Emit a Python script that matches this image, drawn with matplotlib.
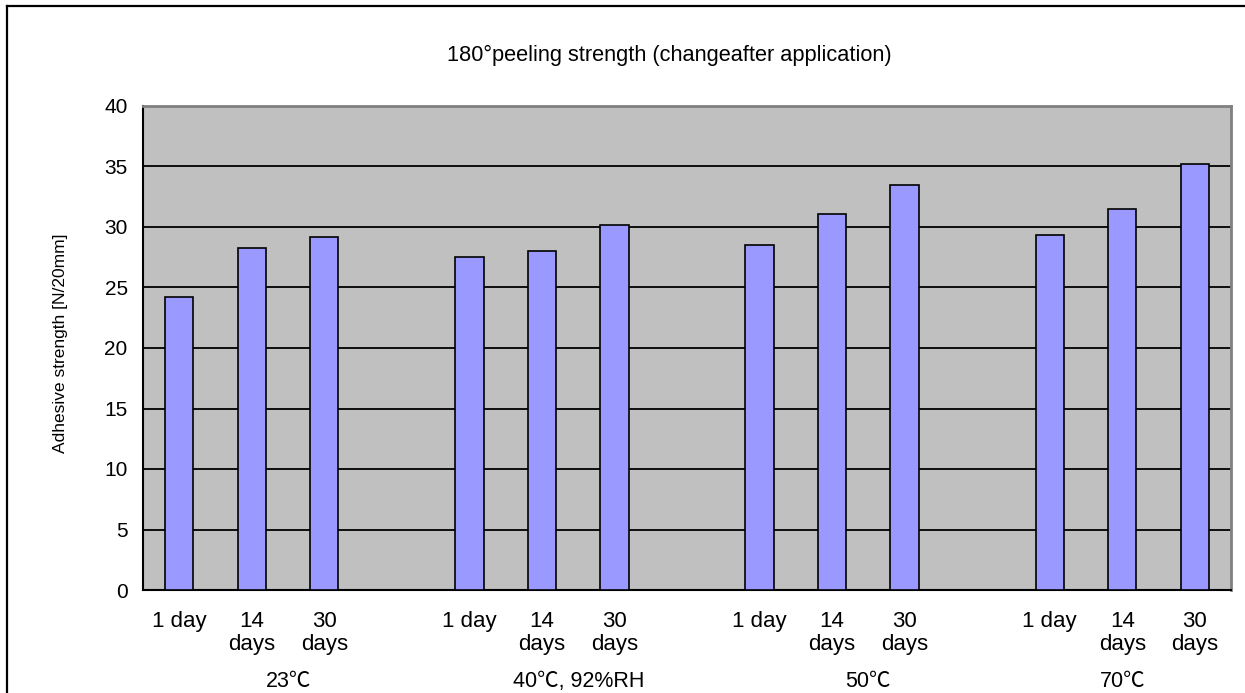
import numpy as np
import matplotlib
matplotlib.use("Agg")
import matplotlib.pyplot as plt
from matplotlib.lines import Line2D
from matplotlib.transforms import blended_transform_factory

plt.rcParams['font.family'] = ['Liberation Sans', 'Noto Sans CJK JP', 'DejaVu Sans']

groups = ['23℃', '40℃, 92%RH', '50℃', '70℃']
periods = ['1 day', '14\ndays', '30\ndays']
vals_23 = [24.2, 28.3, 29.2]
vals_40 = [27.5, 28.0, 30.2]
vals_50 = [28.5, 31.1, 33.5]
vals_70 = [29.3, 31.5, 35.2]
all_vals = [vals_23, vals_40, vals_50, vals_70]

W, H = 1245, 693
fig = plt.figure(figsize=(W / 100, H / 100), dpi=100)
ax = fig.add_axes([143 / W, 1 - 590 / H, (1231 - 143) / W, (590 - 106) / H])
ax.set_facecolor('#C0C0C0')

# one empty category slot after each group except the last
xs, heights, labels, group_x = [], [], [], []
start = 0
for g, vals in enumerate(all_vals):
    for i, v in enumerate(vals):
        xs.append(start + i)
        heights.append(v)
        labels.append(periods[i])
    span = len(vals) + (1 if g < len(all_vals) - 1 else 0)
    group_x.append(start + (span - 1) / 2)
    start += len(vals) + 1

ax.bar(xs, heights, width=0.39, color='#9999FF', edgecolor='black',
       linewidth=1.2, zorder=3)

ax.set_xlim(-0.5, 14.5)
ax.set_ylim(0, 40)
ax.set_yticks(np.arange(0, 41, 5))
ax.yaxis.grid(True, color='black', linewidth=1.3, zorder=1)
ax.set_axisbelow(True)
ax.tick_params(axis='y', length=0, pad=11, labelsize=15)
ax.set_xticks(xs)
ax.set_xticklabels(labels, fontsize=16, linespacing=1.15)
ax.tick_params(axis='x', length=0, pad=15)

for s in ['left', 'bottom']:
    ax.spines[s].set_color('black')
    ax.spines[s].set_linewidth(1.5)
for s in ['top', 'right']:
    ax.spines[s].set_color('#808080')
    ax.spines[s].set_linewidth(2)

trans = blended_transform_factory(ax.transData, ax.transAxes)
for gx, name in zip(group_x, groups):
    ax.text(gx, -0.19, name, transform=trans, ha='center',
            va='center', fontsize=15.5)

ax.set_ylabel('Adhesive strength [N/20mm]', fontsize=12.5)
ax.yaxis.set_label_coords(-0.069, 0.51)

fig.text(669 / W, 1 - 55 / H, '180°peeling strength (changeafter application)',
         ha='center', va='center', fontsize=15.7)

# outer chart frame (left and top edges visible)
fig.add_artist(Line2D([7 / W, 7 / W], [0, 1 - 6 / H], color='black',
                      linewidth=1.6, transform=fig.transFigure))
fig.add_artist(Line2D([7 / W, 1], [1 - 6 / H, 1 - 6 / H], color='black',
                      linewidth=1.6, transform=fig.transFigure))

fig.savefig('out.png', dpi=100)
